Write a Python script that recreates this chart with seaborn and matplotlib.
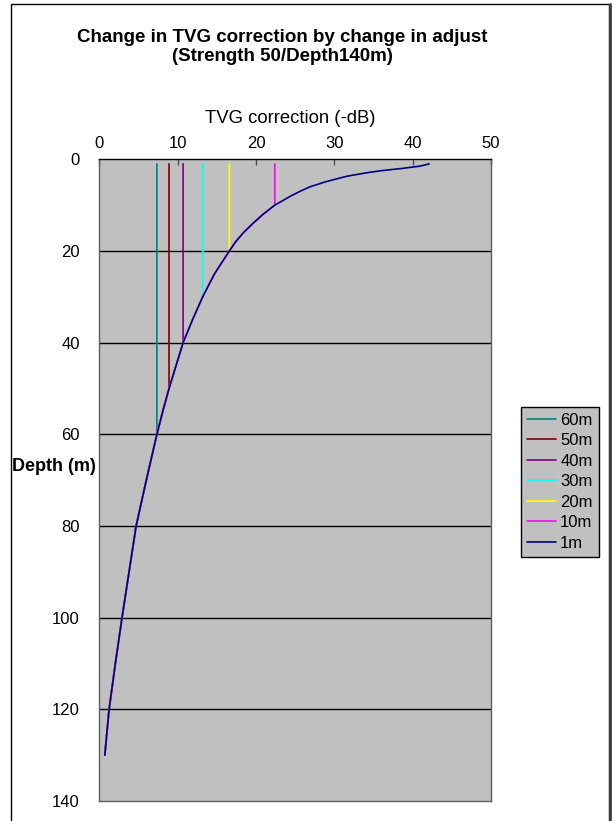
import pandas as pd
import numpy as np
import matplotlib
matplotlib.use("Agg")
import matplotlib.pyplot as plt
import seaborn as sns
from matplotlib.patches import Rectangle
from matplotlib.lines import Line2D

# data
curve_depth = [1, 1.5, 2, 2.5, 3, 3.7, 4, 5, 6, 7, 8, 10, 12, 14, 16, 18, 20,
               25, 30, 35, 40, 45, 50, 55, 60, 70, 80, 90, 100, 110, 120, 130]
curve_db = [42.1, 40.9, 38.6, 35.9, 33.9, 31.6, 30.9, 28.7, 26.9, 25.6, 24.45,
            22.4, 20.9, 19.6, 18.4, 17.4, 16.6, 14.7, 13.2, 11.9, 10.7, 9.8,
            8.9, 8.1, 7.35, 6.0, 4.7, 3.8, 2.9, 2.05, 1.25, 0.7]

adjust_names = ["60m", "50m", "40m", "30m", "20m", "10m"]
adjust_depth = [60, 50, 40, 30, 20, 10]
adjust_db = [7.35, 8.9, 10.7, 13.2, 16.6, 22.4]

series_order = adjust_names + ["1m"]
series_colors = ["#008080", "#800000", "#800080", "#00FFFF", "#FFFF00",
                 "#FF00FF", "#000080"]
palette = dict(zip(series_order, series_colors))

y_ticks = [0, 20, 40, 60, 80, 100, 120, 140]
x_ticks = [0, 10, 20, 30, 40, 50]

#build long table
rows = []
for name, adj, val in zip(adjust_names, adjust_depth, adjust_db):
    rows.append((name, 1, val))
    for d, v in zip(curve_depth, curve_db):
        if d >= adj:
            rows.append((name, d, v))
for d, v in zip(curve_depth, curve_db):
    rows.append(("1m", d, v))
df = pd.DataFrame(rows, columns=["series", "depth", "db"])

sns.set_style("white")
plt.rcParams["font.family"] = ["Liberation Sans", "DejaVu Sans"]
plt.rcParams["text.color"] = "black"
plt.rcParams["axes.labelcolor"] = "black"
plt.rcParams["xtick.labelcolor"] = "black"
plt.rcParams["ytick.labelcolor"] = "black"

W, H = 614, 821
fig = plt.figure(figsize=(W / 100, H / 100), dpi=100)
x0, x1, y0, y1 = 99.3, 491, 159.3, 801
ax = fig.add_axes([x0 / W, 1 - y1 / H, (x1 - x0) / W, (y1 - y0) / H])
ax.set_facecolor("#C0C0C0")

sns.lineplot(data=df, x="db", y="depth", hue="series", hue_order=series_order,
             palette=palette, sort=False, estimator=None, linewidth=1.2, ax=ax)

ax.set_xlim(0, 50)
ax.set_ylim(140, 0)
ax.set_xticks(x_ticks)
ax.set_yticks(y_ticks)
ax.xaxis.tick_top()
ax.xaxis.set_label_position("top")
ax.tick_params(axis="x", direction="in", length=4, width=1, color="#505050",
               pad=6, labelsize=12)
ax.tick_params(axis="y", length=0, pad=14, labelsize=12)
for g in y_ticks[1:-1]:
    ax.axhline(g, color="black", linewidth=1, zorder=0.5)

for side in ["left", "right", "bottom"]:
    ax.spines[side].set_color("#606060")
    ax.spines[side].set_linewidth(1)
ax.spines["top"].set_color("black")
ax.spines["top"].set_linewidth(1)

ax.set_xlabel("TVG correction (-dB)", fontsize=13.3)
ax.xaxis.set_label_coords((290 - x0) / (x1 - x0), 1 + (y0 - 119) / (y1 - y0))
ax.xaxis.label.set_va("center")
ax.set_ylabel("Depth (m)", fontsize=13, fontweight="bold", rotation=0)
ax.yaxis.set_label_coords((54 - x0) / (x1 - x0), 1 - (466.7 - y0) / (y1 - y0))
ax.yaxis.label.set_va("center")
ax.yaxis.label.set_ha("center")

handles, labels = ax.get_legend_handles_labels()
ax.get_legend().remove()
leg = ax.legend(handles, labels, loc="upper left",
                bbox_to_anchor=(521 / W, 1 - 407 / H),
                bbox_transform=fig.transFigure, borderaxespad=0,
                fontsize=12, handlelength=1.75, handletextpad=0.25,
                labelspacing=0.33, borderpad=0.35, fancybox=False,
                framealpha=1, facecolor="#C0C0C0", edgecolor="black")
leg.get_frame().set_linewidth(1)

fig.text(282.5 / W, 1 - 46.7 / H,
         "Change in TVG correction by change in adjust\n(Strength 50/Depth140m)",
         ha="center", va="center", fontsize=13.5, fontweight="bold",
         linespacing=1.15)

# chart border
fig.patches.append(Rectangle((11 / W, -0.05), (609 - 11) / W, 1.05 - 4 / H,
                             transform=fig.transFigure, fill=False,
                             edgecolor="black", linewidth=1))
fig.lines.append(Line2D([609.5 / W, 609.5 / W], [-0.05, 1 - 4 / H],
                        transform=fig.transFigure, color="#404040", linewidth=2))

plt.savefig("out.png", dpi=100)
